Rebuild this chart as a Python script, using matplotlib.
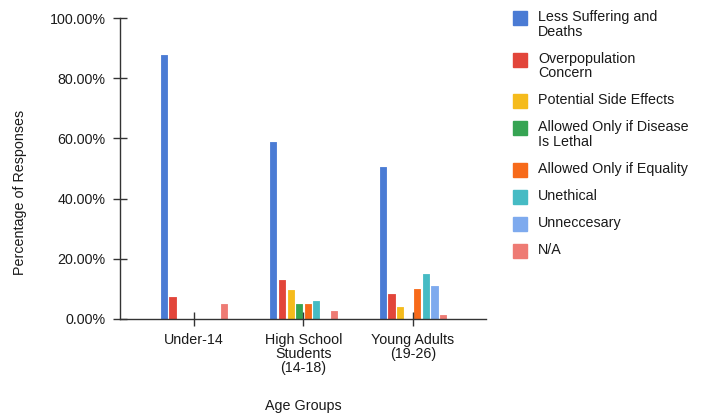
import numpy as np
import matplotlib
matplotlib.use("Agg")
import matplotlib.pyplot as plt
from matplotlib.patches import Rectangle

plt.rcParams['font.family'] = ['Liberation Sans', 'DejaVu Sans']

# age groups on the x axis
groups = ['Under-14', 'High School\nStudents\n(14-18)', 'Young Adults\n(19-26)']

# response categories (legend order)
series = ['Less Suffering and\nDeaths', 'Overpopulation\nConcern', 'Potential Side Effects',
          'Allowed Only if Disease\nIs Lethal', 'Allowed Only if Equality', 'Unethical',
          'Unneccesary', 'N/A']
colors = ['#4a7bd4', '#e2453a', '#f5bb1c', '#36a453', '#f76a1a', '#46bbc4', '#7eaaee', '#ee7b74']

# percentage of responses per group, one list per group in series order
under14 = [87.6, 7.4, 0, 0, 0, 0, 0, 5.0]
high_school = [58.9, 12.9, 9.6, 5.0, 5.0, 6.1, 0, 2.5]
young_adults = [50.5, 8.2, 4.1, 0, 9.9, 15.0, 11.0, 1.3]

values = np.array([under14, high_school, young_adults])

txt_color = '#1a1a1a'
fs = 10.3

fig = plt.figure(figsize=(7.06, 4.16), dpi=100)
ax = fig.add_axes([120 / 706, 1 - 319 / 416, 366 / 706, 301 / 416])

x = np.arange(len(groups))
slot = 0.0787
width = 0.056
for i, name in enumerate(series):
    offs = (i - (len(series) - 1) / 2) * slot
    ax.bar(x + offs, values[:, i], width=width, color=colors[i],
           edgecolor=colors[i], linewidth=0.6, joinstyle='round')

ax.set_xlim(-0.676, 2.667)
ax.set_ylim(0, 100)
ax.set_yticks(np.arange(0, 101, 20))
ax.set_yticklabels(['%.2f%%' % v for v in np.arange(0, 101, 20)])
ax.set_xticks(x)
ax.set_xticklabels(groups, linespacing=1.0)

for side in ['top', 'right']:
    ax.spines[side].set_visible(False)
for side in ['left', 'bottom']:
    ax.spines[side].set_color('#333333')
    ax.spines[side].set_linewidth(1.0)

ax.tick_params(axis='both', direction='inout', length=10.5, width=1.0,
               color='#333333', labelsize=fs, labelcolor=txt_color)
ax.tick_params(axis='y', pad=5)
ax.tick_params(axis='x', pad=5)

ax.set_xlabel('Age Groups', fontsize=fs, color=txt_color)
ax.xaxis.set_label_coords(0.5, -0.265)
ax.set_ylabel('Percentage of Responses', fontsize=fs, color=txt_color)
ax.yaxis.label.set_verticalalignment('center')
ax.yaxis.set_label_coords(-0.273, 0.419)

# legend drawn by hand so the swatch lines up with the first text line
ypix = 18
for name, c in zip(series, colors):
    nlines = name.count('\n') + 1
    fig.patches.append(Rectangle((513 / 706, 1 - (ypix + 7) / 416), 14 / 706, 14 / 416,
                                 transform=fig.transFigure, color=c, figure=fig))
    fig.text(538 / 706, 1 - (ypix - 7.5) / 416, name, ha='left', va='top',
             fontsize=fs, color=txt_color, linespacing=1.02)
    ypix += 27 + 14.5 * (nlines - 1)

fig.savefig('out.png', dpi=100)
